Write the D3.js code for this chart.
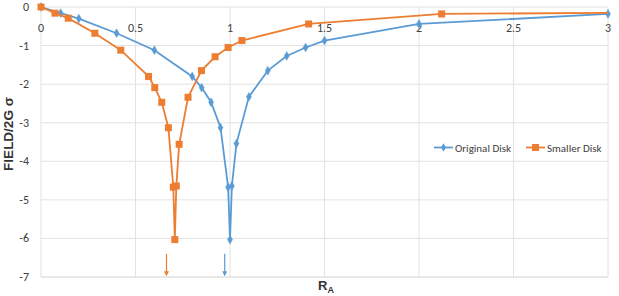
<!DOCTYPE html>
<html><head><meta charset="utf-8">
<script src="https://cdn.jsdelivr.net/npm/d3@7"></script>
<style>body{margin:0;background:#fff;} svg{display:block;}</style>
</head><body>
<svg id="c" width="619" height="296"></svg>
<script>
const xTicks = [0, 0.5, 1, 1.5, 2, 2.5, 3];
const xTickLabels = ["0", "0.5", "1", "1.5", "2", "2.5", "3"];
const yTicks = [0, -1, -2, -3, -4, -5, -6, -7];
const yTickLabels = ["0", "-1", "-2", "-3", "-4", "-5", "-6", "-7"];
const seriesNames = ["Original Disk", "Smaller Disk"];

const originalX = [0, 0.104, 0.2, 0.4, 0.6, 0.8, 0.85, 0.9, 0.95, 0.99, 1.0, 1.01, 1.034, 1.1, 1.2, 1.3, 1.4, 1.5, 2.0, 3.0];
const originalY = [0, -0.16, -0.30, -0.68, -1.12, -1.80, -2.09, -2.47, -3.13, -4.67, -6.03, -4.64, -3.54, -2.33, -1.65, -1.27, -1.05, -0.87, -0.44, -0.18];

const smallerX = [0, 0.074, 0.144, 0.285, 0.422, 0.569, 0.602, 0.639, 0.674, 0.700, 0.708, 0.716, 0.731, 0.778, 0.849, 0.921, 0.990, 1.063, 1.416, 2.12, 3.0];
const smallerY = [0, -0.16, -0.29, -0.68, -1.12, -1.80, -2.09, -2.47, -3.13, -4.67, -6.03, -4.64, -3.56, -2.34, -1.65, -1.29, -1.05, -0.87, -0.44, -0.18, -0.15];
const smallerMarked = [1,1,1,1,1,1,1,1,1,1,1,1,1,1,1,1,1,1,1,1,0];

const arrowX = [0.664, 0.972];
const arrowYFrom = [-6.4, -6.4];
const arrowYTo = [-6.98, -6.98];

const blue = "#5B9BD5", orange = "#ED7D31";
const svg = d3.select("#c");
const W = 619, H = 296;
const m = {l: 41, r: 11, t: 7, b: 19};
const x = d3.scaleLinear().domain([0, 3]).range([m.l, W - m.r]);
const y = d3.scaleLinear().domain([0, -7]).range([m.t, H - m.b]);
const font = "Carlito, Calibri, 'Open Sans', sans-serif";
const titleFont = "'Liberation Sans', Arial, sans-serif";

// gridlines
const g = svg.append("g");
g.selectAll("line.h").data(yTicks).join("line")
  .attr("x1", x(0)).attr("x2", x(3))
  .attr("y1", d => y(d)).attr("y2", d => y(d))
  .attr("stroke", d => d === -7 ? "#d0d0d0" : "#e2e2e2").attr("stroke-width", 1);
g.selectAll("line.v").data(xTicks).join("line")
  .attr("y1", y(0)).attr("y2", y(-7))
  .attr("x1", d => x(d)).attr("x2", d => x(d))
  .attr("stroke", "#e2e2e2").attr("stroke-width", 1);

// x tick labels (axis crosses at 0)
svg.append("g").selectAll("text").data(xTicks).join("text")
  .attr("x", d => x(d)).attr("y", y(0) + 25)
  .attr("text-anchor", "middle")
  .attr("font-family", font).attr("font-size", 12).attr("fill", "#404040")
  .text((d, i) => xTickLabels[i]);

// y tick labels
svg.append("g").selectAll("text").data(yTicks).join("text")
  .attr("x", 29).attr("y", d => y(d) + 4)
  .attr("text-anchor", "end")
  .attr("font-family", font).attr("font-size", 12).attr("fill", "#404040")
  .text((d, i) => yTickLabels[i]);

// axis titles
svg.append("text")
  .attr("transform", `translate(13,134) rotate(-90)`)
  .attr("text-anchor", "middle")
  .attr("font-family", titleFont).attr("font-size", 13.5).attr("font-weight", "bold").attr("fill", "#333")
  .text("FIELD/2G σ");
const xt = svg.append("text")
  .attr("x", 318).attr("y", 290)
  .attr("font-family", titleFont).attr("font-size", 13).attr("font-weight", "bold").attr("fill", "#333");
xt.append("tspan").text("R");
xt.append("tspan").attr("font-size", 9).attr("dy", 3).text("A");

const line = d3.line().x(d => x(d[0])).y(d => y(d[1]));
const orig = originalX.map((v, i) => [v, originalY[i]]);
const small = smallerX.map((v, i) => [v, smallerY[i], smallerMarked[i]]);

svg.append("path").datum(orig).attr("d", line)
  .attr("fill", "none").attr("stroke", blue).attr("stroke-width", 1.8);
svg.append("g").selectAll("path").data(orig).join("path")
  .attr("transform", d => `translate(${x(d[0])},${y(d[1])})`)
  .attr("d", d3.symbol(d3.symbolDiamond, 22))
  .attr("fill", blue).attr("stroke", blue).attr("stroke-width", 0.5);

svg.append("path").datum(small).attr("d", line)
  .attr("fill", "none").attr("stroke", orange).attr("stroke-width", 1.8);
svg.append("g").selectAll("rect").data(small.filter(d => d[2])).join("rect")
  .attr("x", d => x(d[0]) - 3.5).attr("y", d => y(d[1]) - 3.5)
  .attr("width", 7).attr("height", 7).attr("fill", orange);

// arrows
const arrowColors = [orange, blue];
arrowX.forEach((ax, i) => {
  const c = arrowColors[i];
  svg.append("line").attr("x1", x(ax)).attr("x2", x(ax))
    .attr("y1", y(arrowYFrom[i])).attr("y2", y(arrowYTo[i]) - 3)
    .attr("stroke", c).attr("stroke-width", 1.2);
  const tx = x(ax), ty = y(arrowYTo[i]);
  svg.append("path").attr("d", `M${tx-2.5},${ty-5} L${tx+2.5},${ty-5} L${tx},${ty} Z`).attr("fill", c);
});

// legend
const leg = svg.append("g");
const legItems = [{x: 434, c: blue, sym: "d"}, {x: 526, c: orange, sym: "s"}];
legItems.forEach((it, i) => {
  const ly = 147.5;
  leg.append("line").attr("x1", it.x).attr("x2", it.x + 19).attr("y1", ly).attr("y2", ly)
    .attr("stroke", it.c).attr("stroke-width", 1.8);
  if (it.sym === "d") {
    leg.append("path").attr("transform", `translate(${it.x + 9.5},${ly})`)
      .attr("d", d3.symbol(d3.symbolDiamond, 22)).attr("fill", it.c);
  } else {
    leg.append("rect").attr("x", it.x + 6).attr("y", ly - 3.5).attr("width", 7).attr("height", 7).attr("fill", it.c);
  }
  leg.append("text").attr("x", it.x + 21).attr("y", ly + 4)
    .attr("font-family", font).attr("font-size", 11).attr("fill", "#404040")
    .text(seriesNames[i]);
});
</script>
</body></html>
